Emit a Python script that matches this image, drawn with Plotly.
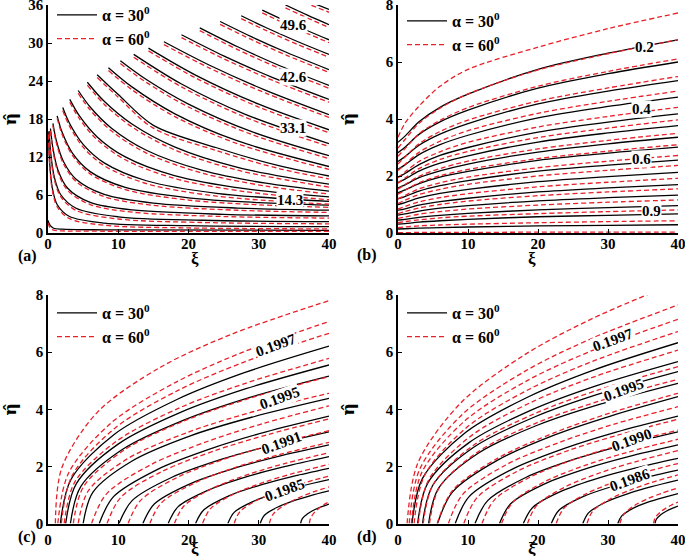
import plotly.graph_objects as go

# ---------------- Panel (a) ----------------
a_xi = [
    [37.5, 40], [33.8, 37, 40], [30.5, 35, 40], [27.5, 31, 35.5, 40], [24.5, 29, 34, 40],
    [21.6, 27, 33, 40], [19.0, 25, 32, 40], [16.5, 23, 31, 40], [14.3, 21, 30, 40],
    [12.2, 19, 28, 40], [10.3, 14, 20, 29, 40], [8.6, 12, 18, 27, 40],
    [7.0, 10, 15, 24, 33, 40], [5.6, 8, 12, 18, 27, 40], [4.3, 6, 9, 14, 22, 31, 40],
    [3.1, 4.5, 7, 11, 18, 28, 40], [2.1, 3, 5, 8, 14, 24, 40],
    [1.3, 2, 3.5, 6, 11, 20, 30, 40], [0.7, 1.2, 2.2, 4, 8, 15, 27, 40],
    [0.35, 0.7, 1.4, 2.8, 6, 12, 25, 40], [0.15, 0.4, 0.9, 1.8, 4, 10, 22, 40],
    [0.05, 0.25, 0.6, 1.3, 3, 8, 20, 40], [0, 0.3, 0.8, 2, 8, 40],
]
a_eta_30 = [
    [36.4, 35.3], [36.0, 34.36, 32.9], [35.2, 32.88, 30.5], [34.3, 32.45, 30.24, 28.2],
    [33.4, 30.97, 28.5, 25.8], [32.4, 29.41, 26.41, 23.3], [31.3, 27.97, 24.54, 21.1],
    [30.2, 26.49, 22.53, 18.7], [29.2, 24.94, 20.34, 16.3], [28.2, 23.52, 18.77, 14.1],
    [27.2, 24.23, 20.35, 16.0, 12.2], [26.1, 23.03, 18.86, 14.53, 10.5],
    [25.0, 21.87, 17.0, 13.46, 10.59, 9.0], [23.8, 20.79, 17.16, 13.59, 10.36, 7.7],
    [22.5, 19.90, 16.59, 13.07, 9.89, 7.86, 6.6], [21.1, 18.44, 15.17, 12.01, 9.06, 6.99, 5.7],
    [19.8, 17.45, 14.0, 11.08, 8.25, 6.27, 5.0], [18.5, 15.93, 12.56, 9.69, 7.2, 5.55, 4.8, 4.4],
    [17.3, 14.52, 11.29, 8.48, 6.09, 4.72, 3.94, 3.6], [16.5, 13.38, 10.0, 7.07, 4.84, 3.64, 2.95, 2.7],
    [16.1, 12.46, 8.82, 6.08, 3.91, 2.56, 2.01, 1.8], [15.9, 10.88, 7.19, 4.5, 2.65, 1.57, 1.15, 1.0],
    [2.0, 1.2, 0.75, 0.6, 0.5, 0.42],
]
a_eta_60 = [
    [35.95, 34.85], [35.55, 33.91, 32.45], [34.75, 32.43, 30.05], [33.85, 32.0, 29.79, 27.75],
    [32.95, 30.52, 28.05, 25.35], [31.95, 28.96, 25.96, 22.85], [30.85, 27.52, 24.09, 20.65],
    [29.75, 26.04, 22.08, 18.25], [28.75, 24.49, 19.89, 15.85], [27.75, 23.07, 18.32, 13.65],
    [26.75, 23.78, 19.9, 15.55, 11.75], [25.65, 22.58, 18.41, 14.08, 10.05],
    [24.55, 21.42, 16.55, 13.01, 10.14, 8.55], [23.35, 20.34, 16.71, 13.14, 9.91, 7.25],
    [22.05, 19.45, 16.14, 12.62, 9.44, 7.41, 6.15], [20.65, 17.99, 14.72, 11.56, 8.61, 6.54, 5.25],
    [19.35, 17.0, 13.55, 10.63, 7.8, 5.82, 4.55], [18.15, 15.58, 12.21, 9.34, 6.85, 5.2, 4.45, 4.05],
    [16.95, 14.17, 10.94, 8.13, 5.74, 4.37, 3.59, 3.25], [16.15, 13.03, 9.65, 6.72, 4.49, 3.29, 2.6, 2.35],
    [15.75, 12.11, 8.47, 5.73, 3.56, 2.21, 1.66, 1.45], [15.55, 10.53, 6.84, 4.15, 2.3, 1.22, 0.8, 0.65],
    [1.6, 0.8, 0.45, 0.33, 0.28, 0.26],
]
a_labels = ["49.6", "42.6", "33.1", "14.3"]
a_label_xi = [34.9, 34.9, 34.9, 34.4]
a_label_eta = [32.8, 24.7, 16.5, 5.16]

# ---------------- Panel (b) ----------------
b_xi = [0, 1, 3, 6, 10, 20, 30, 40]
b_eta_30 = [
    [3.18, 3.40, 3.90, 4.41, 4.87, 5.74, 6.31, 6.78],
    [2.82, 3.01, 3.46, 3.90, 4.31, 5.08, 5.59, 6.00],
    [2.51, 2.68, 3.08, 3.47, 3.84, 4.53, 4.98, 5.35],
    [2.24, 2.39, 2.75, 3.10, 3.43, 4.04, 4.44, 4.77],
    [1.96, 2.09, 2.40, 2.72, 3.00, 3.54, 3.89, 4.18],
    [1.77, 1.89, 2.17, 2.45, 2.71, 3.19, 3.51, 3.77],
    [1.58, 1.69, 1.94, 2.18, 2.42, 2.84, 3.13, 3.36],
    [1.41, 1.51, 1.73, 1.96, 2.16, 2.55, 2.80, 3.01],
    [1.20, 1.28, 1.47, 1.66, 1.84, 2.17, 2.38, 2.56],
    [1.00, 1.07, 1.23, 1.39, 1.53, 1.80, 1.98, 2.13],
    [0.80, 0.85, 0.98, 1.10, 1.22, 1.44, 1.58, 1.70],
    [0.63, 0.67, 0.77, 0.87, 0.96, 1.13, 1.24, 1.33],
    [0.45, 0.48, 0.55, 0.62, 0.69, 0.81, 0.89, 0.96],
    [0.31, 0.33, 0.38, 0.43, 0.48, 0.57, 0.62, 0.67],
    [0.14, 0.15, 0.17, 0.19, 0.21, 0.25, 0.27, 0.29],
]
b_eta_60 = [
    [3.36, 3.85, 4.45, 5.15, 5.74, 6.52, 7.17, 7.72],
    [2.98, 3.28, 3.85, 4.38, 4.88, 5.72, 6.29, 6.78],
    [2.69, 2.96, 3.48, 3.95, 4.40, 5.15, 5.67, 6.11],
    [2.42, 2.67, 3.13, 3.56, 3.96, 4.63, 5.09, 5.49],
    [2.19, 2.41, 2.83, 3.22, 3.59, 4.20, 4.62, 4.98],
    [1.94, 2.14, 2.51, 2.85, 3.18, 3.72, 4.09, 4.41],
    [1.75, 1.93, 2.26, 2.58, 2.86, 3.35, 3.68, 3.97],
    [1.54, 1.70, 1.99, 2.26, 2.52, 2.95, 3.25, 3.50],
    [1.36, 1.50, 1.76, 2.01, 2.23, 2.61, 2.87, 3.10],
    [1.20, 1.32, 1.55, 1.76, 1.96, 2.29, 2.52, 2.72],
    [1.04, 1.15, 1.35, 1.53, 1.71, 2.00, 2.20, 2.37],
    [0.84, 0.93, 1.09, 1.24, 1.38, 1.62, 1.78, 1.92],
    [0.68, 0.75, 0.88, 1.00, 1.12, 1.31, 1.44, 1.55],
    [0.51, 0.56, 0.66, 0.75, 0.84, 0.98, 1.08, 1.16],
    [0.36, 0.40, 0.46, 0.53, 0.59, 0.68, 0.75, 0.81],
    [0.19, 0.21, 0.25, 0.28, 0.31, 0.36, 0.40, 0.43],
    [0.01, 0.01, 0.02, 0.02, 0.02, 0.03, 0.03, 0.03],
]
b_labels = ["0.2", "0.4", "0.6", "0.9"]
b_label_xi = [35.25, 34.8, 34.8, 36.2]
b_label_eta = [6.51, 4.35, 2.6, 0.76]

# ---------------- Panel (c) ----------------
c_xi_30 = [
    [1.76, 3.29, 9.37, 18.43, 27.95, 40], [2.52, 4.02, 9.98, 18.86, 28.19, 40],
    [3.19, 4.66, 10.52, 19.24, 28.40, 40], [5.0, 6.40, 11.97, 20.26, 28.98, 40],
    [7.29, 9.33, 15.47, 23.32, 30.92, 40], [10.1, 11.97, 17.58, 24.75, 31.70, 40],
    [13.5, 15.16, 20.13, 26.49, 32.65, 40], [17.1, 18.53, 22.83, 28.32, 33.65, 40],
    [21.0, 22.19, 25.75, 30.31, 34.73, 40], [25.6, 26.5, 29.2, 32.66, 36.0, 40],
    [30.2, 30.81, 32.65, 35.0, 37.28, 40], [35.95, 36.2, 36.96, 37.93, 38.88, 40],
]
c_eta_30 = [
    [0, 1.55, 3.11, 4.35, 5.28, 6.21], [0, 1.39, 2.78, 3.89, 4.72, 5.55],
    [0, 1.29, 2.58, 3.61, 4.39, 5.16], [0, 1.10, 2.19, 3.07, 3.72, 4.38],
    [0, 0.94, 1.88, 2.63, 3.20, 3.76], [0, 0.80, 1.61, 2.25, 2.73, 3.21],
    [0, 0.69, 1.38, 1.93, 2.34, 2.75], [0, 0.59, 1.17, 1.64, 1.99, 2.34],
    [0, 0.48, 0.97, 1.35, 1.64, 1.93], [0, 0.39, 0.77, 1.08, 1.31, 1.54],
    [0, 0.29, 0.57, 0.80, 0.97, 1.14], [0, 0.17, 0.34, 0.48, 0.58, 0.68],
]
c_xi_60 = [
    [1.05, 1.97, 7.05, 15.93, 26.17, 40], [1.4, 2.94, 9.08, 18.23, 27.84, 40],
    [1.9, 3.42, 9.48, 18.51, 28.0, 40], [2.3, 3.81, 9.80, 18.74, 28.12, 40],
    [3.6, 5.06, 10.84, 19.47, 28.53, 40], [4.3, 5.73, 11.40, 19.87, 28.75, 40],
    [6.2, 8.31, 14.65, 22.76, 30.62, 40], [8.4, 10.38, 16.3, 23.88, 31.23, 40],
    [11.4, 13.19, 18.55, 25.41, 32.06, 40], [14.5, 16.09, 20.88, 27.0, 32.92, 40],
    [18.0, 19.38, 23.5, 28.78, 33.9, 40], [22.0, 23.13, 26.5, 30.82, 35.01, 40],
    [26.5, 27.34, 29.88, 33.12, 36.25, 40], [31.5, 32.03, 33.63, 35.67, 37.64, 40],
    [37.2, 37.38, 37.9, 38.57, 39.22, 40],
]
c_eta_60 = [
    [0, 1.95, 3.90, 5.46, 6.63, 7.80], [0, 1.77, 3.54, 4.95, 6.01, 7.07],
    [0, 1.67, 3.33, 4.66, 5.66, 6.66], [0, 1.45, 2.89, 4.05, 4.91, 5.78],
    [0, 1.29, 2.57, 3.60, 4.37, 5.14], [0, 1.14, 2.28, 3.19, 3.88, 4.56],
    [0, 1.03, 2.06, 2.88, 3.50, 4.12], [0, 0.92, 1.83, 2.56, 3.11, 3.66],
    [0, 0.81, 1.63, 2.28, 2.76, 3.25], [0, 0.71, 1.42, 1.99, 2.41, 2.84],
    [0, 0.62, 1.24, 1.74, 2.11, 2.48], [0, 0.52, 1.04, 1.45, 1.76, 2.07],
    [0, 0.42, 0.83, 1.16, 1.41, 1.66], [0, 0.32, 0.64, 0.90, 1.09, 1.28],
    [0, 0.19, 0.38, 0.53, 0.65, 0.76],
]
c_labels = ["0.1997", "0.1995", "0.1991", "0.1985"]
c_label_xi = [32.5, 33.0, 33.2, 33.7]
c_label_eta = [6.26, 4.39, 2.81, 1.17]

# ---------------- Panel (d) ----------------
d_xi_30 = [
    [2.0, 3.5, 9.56, 18.57, 28.03, 40], [2.8, 4.27, 10.2, 19.02, 28.28, 40],
    [3.5, 4.95, 10.76, 19.41, 28.5, 40], [4.37, 5.78, 11.46, 19.9, 28.78, 40],
    [5.65, 7.8, 14.24, 22.48, 30.47, 40], [8.17, 10.16, 16.13, 23.77, 31.17, 40],
    [11.0, 12.81, 18.25, 25.21, 31.95, 40], [14.5, 16.09, 20.88, 27.0, 32.92, 40],
    [17.9, 19.28, 23.43, 28.73, 33.87, 40], [21.9, 23.03, 26.43, 30.77, 34.98, 40],
    [26.4, 27.25, 29.8, 33.06, 36.23, 40], [31.4, 31.94, 33.55, 35.61, 37.61, 40],
    [36.7, 36.91, 37.53, 38.32, 39.08, 40],
]
d_eta_30 = [
    [0, 1.58, 3.17, 4.43, 5.38, 6.33], [0, 1.42, 2.84, 3.97, 4.82, 5.67],
    [0, 1.33, 2.66, 3.72, 4.52, 5.32], [0, 1.23, 2.46, 3.44, 4.17, 4.91],
    [0, 1.11, 2.22, 3.11, 3.77, 4.44], [0, 0.94, 1.88, 2.63, 3.20, 3.76],
    [0, 0.80, 1.61, 2.25, 2.73, 3.21], [0, 0.69, 1.38, 1.93, 2.34, 2.75],
    [0, 0.57, 1.14, 1.60, 1.94, 2.28], [0, 0.47, 0.94, 1.31, 1.59, 1.87],
    [0, 0.38, 0.76, 1.06, 1.29, 1.52], [0, 0.26, 0.53, 0.74, 0.89, 1.05],
    [0, 0.15, 0.31, 0.43, 0.52, 0.61],
]
d_xi_60 = [
    [1.3, 2.83, 9.0, 18.17, 27.81, 40], [1.6, 3.12, 9.24, 18.34, 27.9, 40],
    [1.9, 3.41, 9.48, 18.51, 28.0, 40], [2.3, 3.79, 9.8, 18.74, 28.12, 40],
    [2.9, 4.37, 10.28, 19.08, 28.31, 40], [3.6, 5.04, 10.84, 19.47, 28.53, 40],
    [4.5, 5.91, 11.56, 19.98, 28.82, 40], [5.6, 7.75, 14.2, 22.46, 30.45, 40],
    [7.2, 9.25, 15.4, 23.27, 30.9, 40], [9.4, 11.31, 17.05, 24.39, 31.51, 40],
    [12.0, 13.75, 19.0, 25.72, 32.23, 40], [14.8, 16.38, 21.1, 27.15, 33.01, 40],
    [18.5, 19.84, 23.88, 29.04, 34.03, 40], [22.6, 23.69, 26.95, 31.13, 35.17, 40],
    [27.0, 27.81, 30.25, 33.37, 36.39, 40], [31.7, 32.22, 33.78, 35.77, 37.7, 40],
    [36.5, 36.72, 37.38, 38.22, 39.03, 40],
]
d_eta_60 = [
    [0, 2.11, 4.23, 5.92, 7.18, 8.45], [0, 1.91, 3.83, 5.36, 6.50, 7.65],
    [0, 1.79, 3.58, 5.01, 6.08, 7.15], [0, 1.68, 3.36, 4.70, 5.71, 6.72],
    [0, 1.52, 3.04, 4.25, 5.16, 6.07], [0, 1.37, 2.75, 3.84, 4.67, 5.49],
    [0, 1.26, 2.53, 3.54, 4.29, 5.05], [0, 1.14, 2.28, 3.19, 3.88, 4.56],
    [0, 1.02, 2.05, 2.86, 3.48, 4.09], [0, 0.91, 1.83, 2.56, 3.10, 3.65],
    [0, 0.82, 1.64, 2.29, 2.78, 3.27], [0, 0.74, 1.48, 2.07, 2.51, 2.95],
    [0, 0.64, 1.28, 1.79, 2.17, 2.55], [0, 0.53, 1.05, 1.47, 1.79, 2.10],
    [0, 0.43, 0.85, 1.19, 1.45, 1.70], [0, 0.31, 0.63, 0.88, 1.06, 1.25],
    [0, 0.19, 0.38, 0.53, 0.64, 0.75],
]
d_labels = ["0.1997", "0.1995", "0.1990", "0.1986"]
d_label_xi = [30.7, 32.2, 33.4, 33.1]
d_label_eta = [6.43, 4.68, 2.92, 1.52]

series_names = ["α = 30<sup>0</sup>", "α = 60<sup>0</sup>"]
x_ticks = [0, 10, 20, 30, 40]
a_y_ticks = [0, 6, 12, 18, 24, 30, 36]
bcd_y_ticks = [0, 2, 4, 6, 8]

# ---------------- Figure ----------------
W, H = 685, 556
BLACK = "black"
RED = "#e8202a"
SERIF = "Liberation Serif"

fig = go.Figure()


def add_family(xs, ys, n, color, dash, legend_id, name):
    xa = "x" if n == 1 else "x%d" % n
    ya = "y" if n == 1 else "y%d" % n
    for i, (x, y) in enumerate(zip(xs, ys)):
        fig.add_trace(go.Scatter(
            x=x, y=y, mode="lines", xaxis=xa, yaxis=ya,
            line=dict(color=color, width=1.3, dash=dash, shape="spline", smoothing=0.9),
            name=name, legend=legend_id, legendgroup=legend_id + name,
            showlegend=(i == 0), hoverinfo="skip"))


add_family(a_xi, a_eta_30, 1, BLACK, "solid", "legend", series_names[0])
add_family(a_xi, a_eta_60, 1, RED, "5px,3px", "legend", series_names[1])
add_family([b_xi] * len(b_eta_30), b_eta_30, 2, BLACK, "solid", "legend2", series_names[0])
add_family([b_xi] * len(b_eta_60), b_eta_60, 2, RED, "5px,3px", "legend2", series_names[1])
add_family(c_xi_30, c_eta_30, 3, BLACK, "solid", "legend3", series_names[0])
add_family(c_xi_60, c_eta_60, 3, RED, "5px,3px", "legend3", series_names[1])
add_family(d_xi_30, d_eta_30, 4, BLACK, "solid", "legend4", series_names[0])
add_family(d_xi_60, d_eta_60, 4, RED, "5px,3px", "legend4", series_names[1])


def px_x(p):
    return p / W


def px_y(p):
    return 1 - p / H


tick_font = dict(family=SERIF, size=15, color="black", weight="bold")
xtitle_font = dict(family=SERIF, size=17, color="black", weight="bold")
ytitle_font = dict(family="DejaVu Serif", size=17, color="black", weight="bold")


def xaxis(dom, anchor, standoff):
    return dict(domain=dom, anchor=anchor, range=[0, 40], tickvals=x_ticks,
                showline=True, linecolor="black", linewidth=1.5, ticks="inside",
                ticklen=4, tickcolor="black", showgrid=False, zeroline=False,
                automargin=False, ticklabeloverflow="allow", tickfont=tick_font,
                ticklabelstandoff=standoff)


def yaxis(dom, anchor, rng, tv, standoff):
    return dict(domain=dom, anchor=anchor, range=rng, tickvals=tv,
                showline=True, linecolor="black", linewidth=1.5, ticks="inside",
                ticklen=4, tickcolor="black", showgrid=False, zeroline=False,
                automargin=False, ticklabeloverflow="allow", tickfont=tick_font,
                title=dict(text="η̂", font=ytitle_font, standoff=standoff))


xl = [px_x(48), px_x(329)]
xr = [px_x(398), px_x(678)]
yt = [px_y(233), px_y(5)]
yb = [px_y(523.5), px_y(295)]

fig.update_layout(
    width=W, height=H, margin=dict(l=0, r=0, t=0, b=0, autoexpand=False),
    paper_bgcolor="white", plot_bgcolor="white",
    xaxis=xaxis(xl, "y", -4), yaxis=yaxis(yt, "x", [0, 36], a_y_ticks, 16),
    xaxis2=xaxis(xr, "y2", -4), yaxis2=yaxis(yt, "x2", [0, 8], bcd_y_ticks, 27),
    xaxis3=xaxis(xl, "y3", 2), yaxis3=yaxis(yb, "x3", [0, 8], bcd_y_ticks, 27),
    xaxis4=xaxis(xr, "y4", 2), yaxis4=yaxis(yb, "x4", [0, 8], bcd_y_ticks, 27),
)

leg_common = dict(font=dict(family=SERIF, size=16, color="black", weight="bold"),
                  bgcolor="rgba(0,0,0,0)", itemwidth=40, tracegroupgap=0,
                  xanchor="left", yanchor="top", itemclick=False, itemdoubleclick=False)
fig.update_layout(
    legend=dict(x=px_x(52), y=px_y(-2), **leg_common),
    legend2=dict(x=px_x(402), y=px_y(4), **leg_common),
    legend3=dict(x=px_x(52), y=px_y(296), **leg_common),
    legend4=dict(x=px_x(402), y=px_y(296), **leg_common),
)

annotations = []


def add_labels(texts, xs, ys, n, angle):
    xa = "x" if n == 1 else "x%d" % n
    ya = "y" if n == 1 else "y%d" % n
    for t, x, y in zip(texts, xs, ys):
        annotations.append(dict(text=t, x=x, y=y, xref=xa, yref=ya, showarrow=False,
                                textangle=angle, bgcolor="white", borderpad=0,
                                font=dict(family=SERIF, size=15, color="black", weight="bold")))


add_labels(a_labels, a_label_xi, a_label_eta, 1, 0)
add_labels(b_labels, b_label_xi, b_label_eta, 2, 0)
add_labels(c_labels, c_label_xi, c_label_eta, 3, -20)
add_labels(d_labels, d_label_xi, d_label_eta, 4, -20)

# x-axis titles (ξ) under each panel
for (px, py) in [(188.5, 258), (538, 258), (188.5, 548), (538, 548)]:
    annotations.append(dict(text="ξ", x=px_x(px), y=px_y(py), xref="paper", yref="paper",
                            showarrow=False, yanchor="middle", font=xtitle_font))

for txt, (px, py) in zip(["(a)", "(b)", "(c)", "(d)"],
                         [(16, 256), (367, 255), (16, 548), (367, 548)]):
    annotations.append(dict(text=txt, x=px_x(px), y=px_y(py), xref="paper", yref="paper",
                            showarrow=False, font=dict(family=SERIF, size=16, color="black",
                                                       weight="bold")))

fig.update_layout(annotations=annotations)

fig.write_html("out.html", config={"displayModeBar": False},
               post_script="document.body.style.margin='0';document.body.style.padding='0';")
